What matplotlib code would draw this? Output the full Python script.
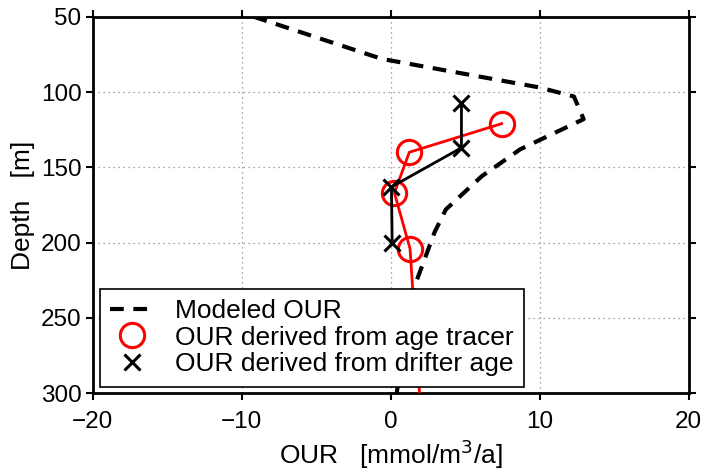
import matplotlib
matplotlib.use('Agg')
import matplotlib.pyplot as plt

plt.rcParams['font.family'] = ['Liberation Sans', 'DejaVu Sans']

# modeled OUR profile (dashed)
model_our = [-9.2, -0.6, 10.0, 12.3, 12.95, 8.7, 6.1, 3.7, 2.95, 1.6, 1.1, 0.4]
model_depth = [50, 78, 97, 103, 118, 138, 156, 178, 193, 229, 255, 300]

# OUR from age tracer (red circles)
tracer_our = [7.45, 1.25, 0.25, 1.3, 2.1]
tracer_depth = [121, 140, 167, 204, 325]

# OUR from drifter age (black crosses)
drifter_our = [4.75, 4.75, 0.05, 0.1]
drifter_depth = [107, 137, 163, 200]

fig = plt.figure(figsize=(7.04, 4.70), dpi=100)
ax = fig.add_axes([0.1317, 0.1632, 0.8465, 0.8013])

ax.plot(model_our, model_depth, color='black', lw=3, ls=(0, (3.3, 2.3)),
        label='Modeled OUR', zorder=3)
ax.plot(tracer_our, tracer_depth, color='red', lw=2, zorder=4)
ax.plot(tracer_our, tracer_depth, ls='none', marker='o', ms=17.5, mfc='none',
        mec='red', mew=2.2, label='OUR derived from age tracer', zorder=4)
ax.plot(drifter_our, drifter_depth, color='black', lw=2, zorder=5)
ax.plot(drifter_our, drifter_depth, ls='none', marker='x', ms=12,
        mec='black', mew=2.2, label='OUR derived from drifter age', zorder=5)

ax.set_xlim(-20, 20)
ax.set_ylim(300, 50)
ax.set_xticks([-20, -10, 0, 10, 20])
ax.set_yticks([50, 100, 150, 200, 250, 300])
ax.grid(True, ls=(0, (1, 3)), color='#888888', lw=0.9)
ax.tick_params(direction='out', length=5, width=1.5, labelsize=17.5,
               top=True, right=True)
ax.tick_params(axis='x', pad=8)
ax.tick_params(axis='y', pad=3)
for s in ax.spines.values():
    s.set_linewidth(2)

ax.set_xlabel('OUR   [mmol/m$^3$/a]', fontsize=19, labelpad=3)
ax.set_ylabel('Depth   [m]', fontsize=19, labelpad=4)

leg = ax.legend(loc='lower left', bbox_to_anchor=(0.012, 0.017),
                borderaxespad=0, fontsize=19, fancybox=False, framealpha=1,
                edgecolor='black', handlelength=1.6, handletextpad=0.85,
                labelspacing=0.1, borderpad=0.4)
leg.get_frame().set_linewidth(1.2)
leg.set_zorder(10)

fig.savefig('out.png', dpi=100)
